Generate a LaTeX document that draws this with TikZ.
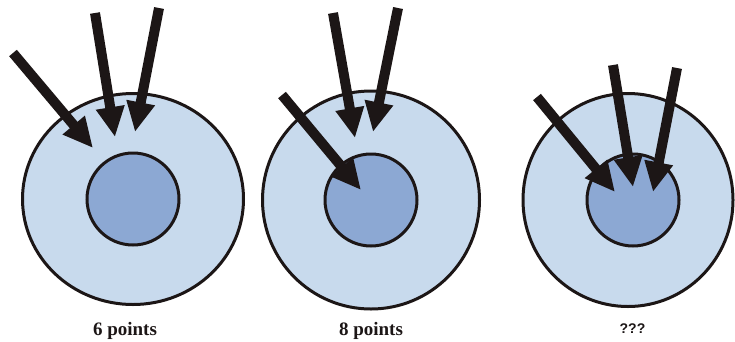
\documentclass[tikz,border=0pt]{standalone}
\usepackage{fontspec}
\setmainfont{Liberation Serif}
\setsansfont{Liberation Sans}
\usetikzlibrary{arrows.meta,shapes.geometric}
\definecolor{outerblue}{RGB}{200,218,237}
\definecolor{innerblue}{RGB}{140,168,211}
\definecolor{inkblack}{RGB}{28,22,22}
\tikzset{
  outercell/.style={ellipse,draw=inkblack,line width=3pt,fill=outerblue,inner sep=0pt},
  innercell/.style={circle,draw=inkblack,line width=3pt,fill=innerblue,inner sep=0pt,minimum size=92pt},
  bigarrow/.style={draw=inkblack,line width=10pt,-{Triangle[length=30pt,width=27pt]}},
  caption/.style={anchor=base,inner sep=0pt,font=\bfseries\fontsize{19}{22}\selectfont,text=inkblack}
}
\begin{document}
\begin{tikzpicture}[x=1pt,y=-1pt]
\useasboundingbox (0,0) rectangle (735,341);
% cell 1
\node[outercell,minimum width=221pt,minimum height=211pt] (o1) at (133,199) {};
\node[innercell] (i1) at (133,199) {};
% cell 2
\node[outercell,minimum width=217pt,minimum height=218pt] (o2) at (371,200) {};
\node[innercell] (i2) at (371,200) {};
% cell 3
\node[outercell,minimum width=210pt,minimum height=213pt] (o3) at (628,200) {};
\node[innercell] (i3) at (633,200) {};
% arrow ends
\coordinate (a1s) at (13,53);   \coordinate (a1e) at (93,148);
\coordinate (b1s) at (95,13);   \coordinate (b1e) at (115,137);
\coordinate (c1s) at (159,8);   \coordinate (c1e) at (135,132);
\coordinate (a2s) at (282,95);  \coordinate (a2e) at (361,190);
\coordinate (b2s) at (333,13);  \coordinate (b2e) at (355,138);
\coordinate (c2s) at (398,8);   \coordinate (c2e) at (373,132);
\coordinate (a3s) at (537,97);  \coordinate (a3e) at (615,192);
\coordinate (b3s) at (613,65);  \coordinate (b3e) at (633,187);
\coordinate (c3s) at (677,68);  \coordinate (c3e) at (653,192);
\foreach \k in {1,2,3}{
  \draw[bigarrow] (a\k s) -- (a\k e);
  \draw[bigarrow] (b\k s) -- (b\k e);
  \draw[bigarrow] (c\k s) -- (c\k e);
}
% captions
\node[caption] (t1) at (125,335) {6 points};
\node[caption] (t2) at (371,335) {8 points};
\node[caption,font=\sffamily\bfseries\fontsize{14}{16}\selectfont] (t3) at (632.5,333) {???};
\end{tikzpicture}
\end{document}
